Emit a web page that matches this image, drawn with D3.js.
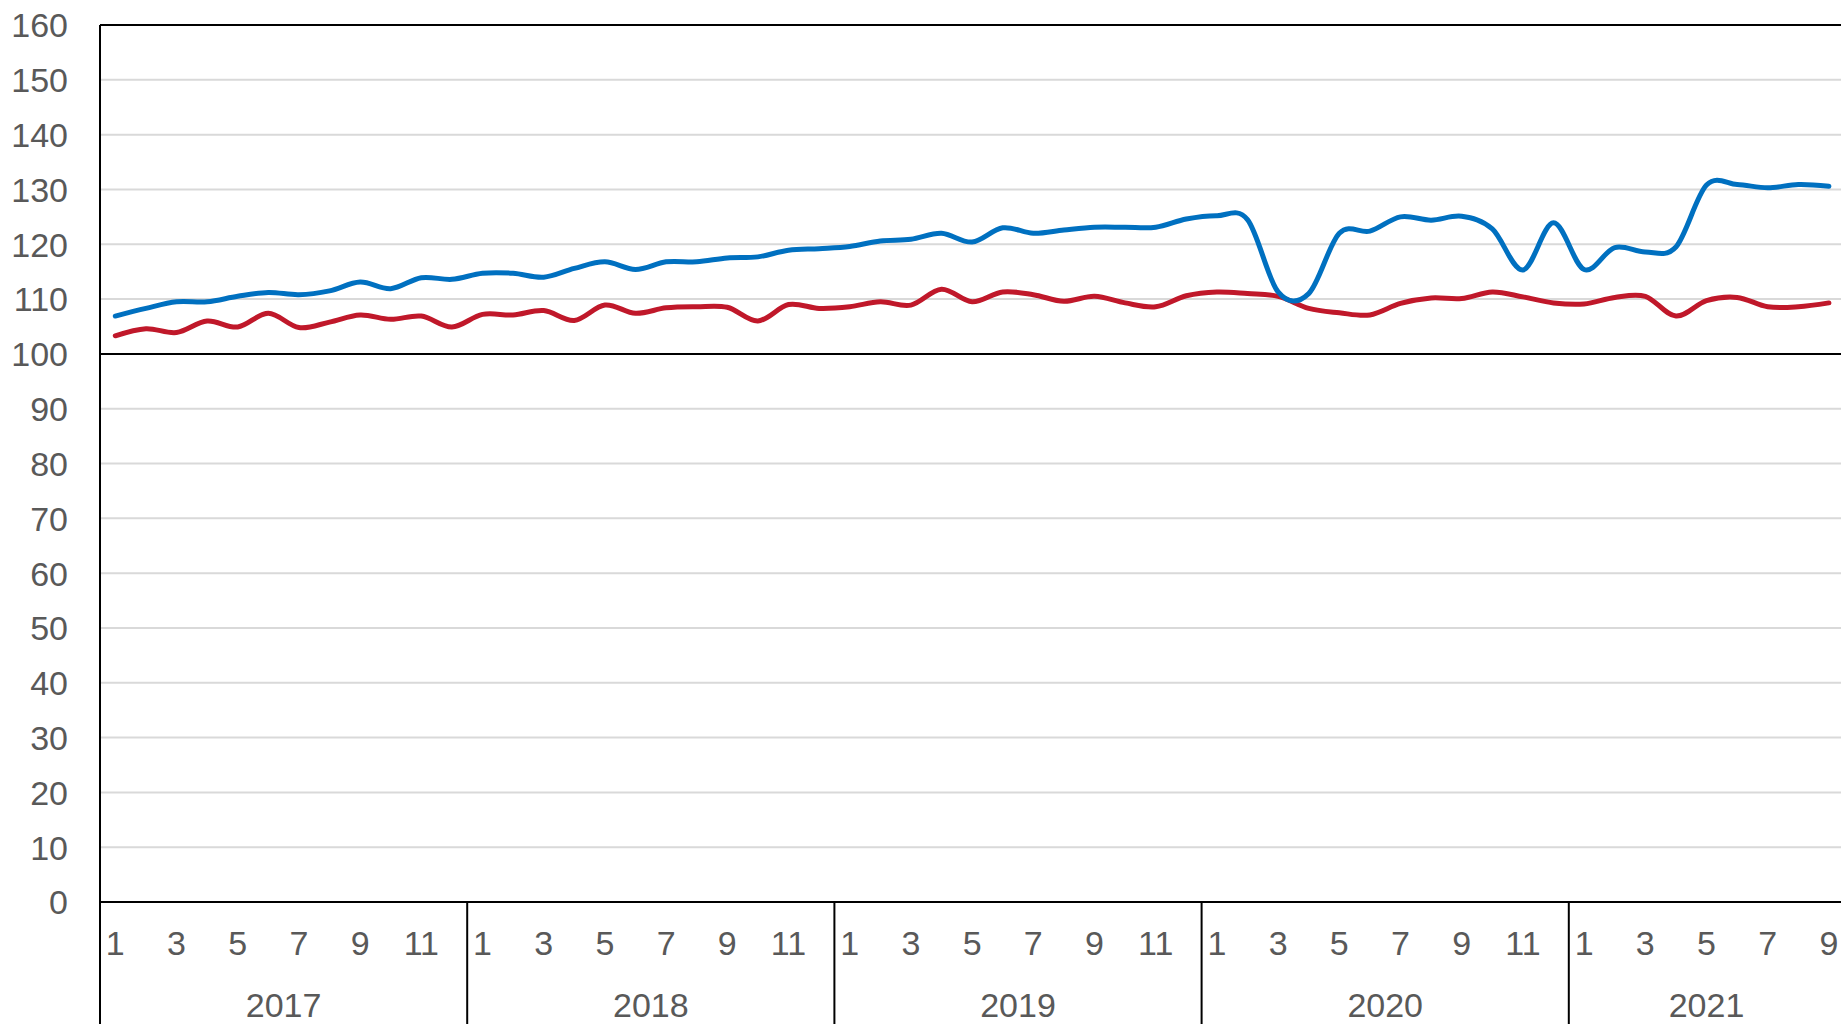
<!DOCTYPE html>
<html>
<head>
<meta charset="utf-8">
<script src="https://cdn.jsdelivr.net/npm/d3@7"></script>
<style>
  html, body { margin: 0; padding: 0; background: #fff; }
  svg { display: block; }
  text { font-family: "Liberation Sans", Arial, sans-serif; fill: #595959; }
</style>
</head>
<body>
<svg id="chart" width="1841" height="1024"></svg>
<script>
// ---- data ----
const years = [2017, 2018, 2019, 2020, 2021];
const monthsInYear = [12, 12, 12, 12, 9];
const yTicks = [0, 10, 20, 30, 40, 50, 60, 70, 80, 90, 100, 110, 120, 130, 140, 150, 160];
const monthLabelsShown = [1, 3, 5, 7, 9, 11];

const seriesBlue = [
  106.9, 108.3, 109.5, 109.5, 110.5, 111.2, 110.8, 111.5, 113.1, 111.9, 113.9, 113.6,
  114.7, 114.7, 114.0, 115.6, 116.8, 115.4, 116.8, 116.8, 117.5, 117.7, 118.9, 119.2,
  119.6, 120.6, 120.9, 122.0, 120.4, 123.0, 122.0, 122.6, 123.1, 123.1, 123.1, 124.6,
  125.2, 124.5, 111.3, 111.0, 122.0, 122.4, 125.0, 124.4, 125.1, 122.8, 115.3, 123.9,
  115.4, 119.4, 118.6, 119.5, 130.8, 130.9, 130.3, 130.9, 130.6
];
const seriesRed = [
  103.3, 104.6, 103.9, 106.0, 104.9, 107.4, 104.8, 105.8, 107.1, 106.3, 106.9, 104.9,
  107.2, 107.1, 107.9, 106.1, 108.9, 107.4, 108.4, 108.6, 108.5, 106.0, 109.0, 108.3,
  108.6, 109.5, 108.9, 111.8, 109.5, 111.3, 110.8, 109.6, 110.5, 109.3, 108.6, 110.6,
  111.3, 111.0, 110.5, 108.3, 107.5, 107.1, 109.2, 110.2, 110.1, 111.3, 110.4, 109.3,
  109.1, 110.3, 110.5, 106.9, 109.7, 110.3, 108.6, 108.6, 109.3
];

// build month keys
const months = [];
years.forEach((yr, yi) => {
  for (let m = 1; m <= monthsInYear[yi]; m++) months.push({ key: yr + "-" + m, year: yr, month: m });
});

// ---- layout ----
const svg = d3.select("#chart");
const plotLeft = 100, plotTop = 25, plotBottom = 902;
const monthW = 30.6;
const plotRight = plotLeft + months.length * monthW;
const fontSize = 34;

const x = d3.scaleBand().domain(months.map(d => d.key)).range([plotLeft, plotRight]).padding(0);
const y = d3.scaleLinear().domain([0, 160]).range([plotBottom, plotTop]);
const cx = k => x(k) + x.bandwidth() / 2;

// gridlines
svg.append("g").selectAll("line")
  .data(yTicks.filter(t => t !== 0 && t !== 100 && t !== 160))
  .join("line")
  .attr("x1", plotLeft).attr("x2", 1841)
  .attr("y1", d => y(d)).attr("y2", d => y(d))
  .attr("stroke", "#d9d9d9").attr("stroke-width", 2);

// top border, 100 line, x axis line
[160, 100, 0].forEach(v => {
  svg.append("line")
    .attr("x1", plotLeft).attr("x2", 1841)
    .attr("y1", y(v)).attr("y2", y(v))
    .attr("stroke", "#000").attr("stroke-width", 2);
});

// left axis line (extends through category area)
svg.append("line")
  .attr("x1", plotLeft).attr("x2", plotLeft)
  .attr("y1", plotTop).attr("y2", 1024)
  .attr("stroke", "#000").attr("stroke-width", 2);

// year groups
let acc = 0;
const yearGroups = years.map((yr, i) => {
  const startKey = months[acc].key;
  const endKey = months[acc + monthsInYear[i] - 1].key;
  acc += monthsInYear[i];
  return { year: yr, x0: x(startKey), x1: x(endKey) + x.bandwidth() };
});
svg.append("g").selectAll("line")
  .data(yearGroups.slice(1))
  .join("line")
  .attr("x1", d => d.x0).attr("x2", d => d.x0)
  .attr("y1", plotBottom).attr("y2", 1024)
  .attr("stroke", "#000").attr("stroke-width", 2);

// y axis labels
const yAxis = d3.axisLeft(y).tickValues(yTicks).tickSize(0).tickPadding(0);
const gy = svg.append("g").attr("transform", `translate(${68},0)`).call(yAxis);
gy.select(".domain").remove();
gy.selectAll("text")
  .attr("font-size", fontSize)
  .attr("font-family", "Liberation Sans, Arial, sans-serif")
  .attr("fill", "#595959")
  .attr("dy", "0.35em")
  .attr("x", 0);

// month labels
const xAxis = d3.axisBottom(x)
  .tickValues(months.filter(d => monthLabelsShown.includes(d.month)).map(d => d.key))
  .tickFormat(k => k.split("-")[1])
  .tickSize(0).tickPadding(0);
const gx = svg.append("g").attr("transform", `translate(0,${955})`).call(xAxis);
gx.select(".domain").remove();
gx.selectAll("text")
  .attr("font-size", fontSize)
  .attr("font-family", "Liberation Sans, Arial, sans-serif")
  .attr("fill", "#595959")
  .attr("y", 0).attr("dy", 0);

// year labels
svg.append("g").selectAll("text")
  .data(yearGroups)
  .join("text")
  .attr("x", d => (d.x0 + d.x1) / 2)
  .attr("y", 1017)
  .attr("text-anchor", "middle")
  .attr("font-size", fontSize)
  .text(d => d.year);

// lines
const line = d3.line()
  .x((d, i) => cx(months[i].key))
  .y(d => y(d))
  .curve(d3.curveCatmullRom.alpha(0));

svg.append("path").datum(seriesRed)
  .attr("d", line).attr("fill", "none")
  .attr("stroke", "#C0182A").attr("stroke-width", 5)
  .attr("stroke-linejoin", "round").attr("stroke-linecap", "round");

svg.append("path").datum(seriesBlue)
  .attr("d", line).attr("fill", "none")
  .attr("stroke", "#0070C0").attr("stroke-width", 5)
  .attr("stroke-linejoin", "round").attr("stroke-linecap", "round");
</script>
</body>
</html>
